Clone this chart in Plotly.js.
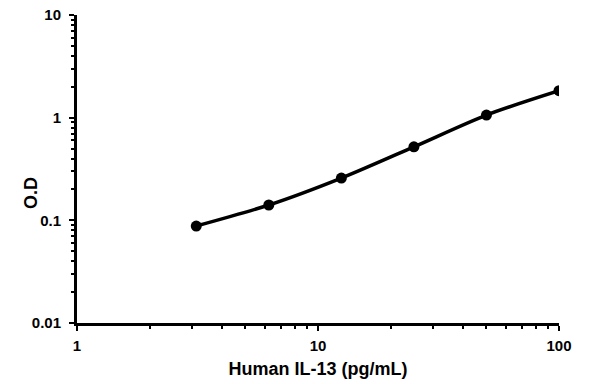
<!DOCTYPE html>
<html><head><meta charset="utf-8">
<script src="https://cdn.plot.ly/plotly-3.0.1.min.js"></script>
<style>html,body{margin:0;padding:0;background:#fff}#c{width:595px;height:384px}</style>
</head><body><div id="c"></div>
<script>
const conc = [3.125, 6.25, 12.5, 25, 50, 100];
const od = [0.088, 0.141, 0.258, 0.52, 1.06, 1.83];
const xTickVals = [1, 10, 100];
const xTickText = ['1', '10', '100'];
const yTickVals = [0.01, 0.1, 1, 10];
const yTickText = ['0.01', '0.1', '1', '10'];
const xMinorVals = [2, 3, 4, 5, 6, 7, 8, 9, 20, 30, 40, 50, 60, 70, 80, 90];
const yMinorVals = [0.02, 0.03, 0.04, 0.05, 0.06, 0.07, 0.08, 0.09,
  0.2, 0.3, 0.4, 0.5, 0.6, 0.7, 0.8, 0.9, 2, 3, 4, 5, 6, 7, 8, 9];
const xTitle = 'Human IL-13 (pg/mL)';
const yTitle = 'O.D';

const fam = 'Liberation Sans, Arial, sans-serif';
const trace = {
  x: conc, y: od, type: 'scatter', mode: 'lines+markers',
  line: {color: '#000', width: 3.5, shape: 'spline', smoothing: 0.8},
  marker: {color: '#000', size: 11},
  showlegend: false, hoverinfo: 'skip'
};
const axisBase = {
  type: 'log', showgrid: false, zeroline: false, showline: true,
  linecolor: '#000', linewidth: 3, ticks: 'outside', ticklen: 5, tickwidth: 2,
  tickcolor: '#000', tickmode: 'array', mirror: false,
  tickfont: {family: fam, size: 15, color: '#000', weight: 'bold'}
};
const layout = {
  width: 595, height: 384,
  margin: {l: 77, r: 36, t: 15, b: 61},
  paper_bgcolor: '#fff', plot_bgcolor: '#fff',
  xaxis: Object.assign({}, axisBase, {
    range: [0, 2], tickvals: xTickVals, ticktext: xTickText, ticklabelstandoff: 2,
    minor: {tickmode: 'array', tickvals: xMinorVals, ticks: 'outside', ticklen: 3, tickwidth: 2, tickcolor: '#000', showgrid: false},
    title: {text: xTitle, standoff: 10,
      font: {family: fam, size: 18, color: '#000', weight: 'bold'}}
  }),
  yaxis: Object.assign({}, axisBase, {
    range: [-2, 1], tickvals: yTickVals, ticktext: yTickText, ticklabelstandoff: 5,
    minor: {tickmode: 'array', tickvals: yMinorVals, ticks: 'outside', ticklen: 3, tickwidth: 2, tickcolor: '#000', showgrid: false}
  }),
  annotations: [{
    text: yTitle, xref: 'paper', yref: 'paper', x: -0.0954, y: 0.422,
    xanchor: 'center', yanchor: 'middle', textangle: -90, showarrow: false,
    font: {family: fam, size: 18, color: '#000', weight: 'bold'}
  }]
};
Plotly.newPlot('c', [trace], layout, {displayModeBar: false, staticPlot: true});
</script></body></html>
